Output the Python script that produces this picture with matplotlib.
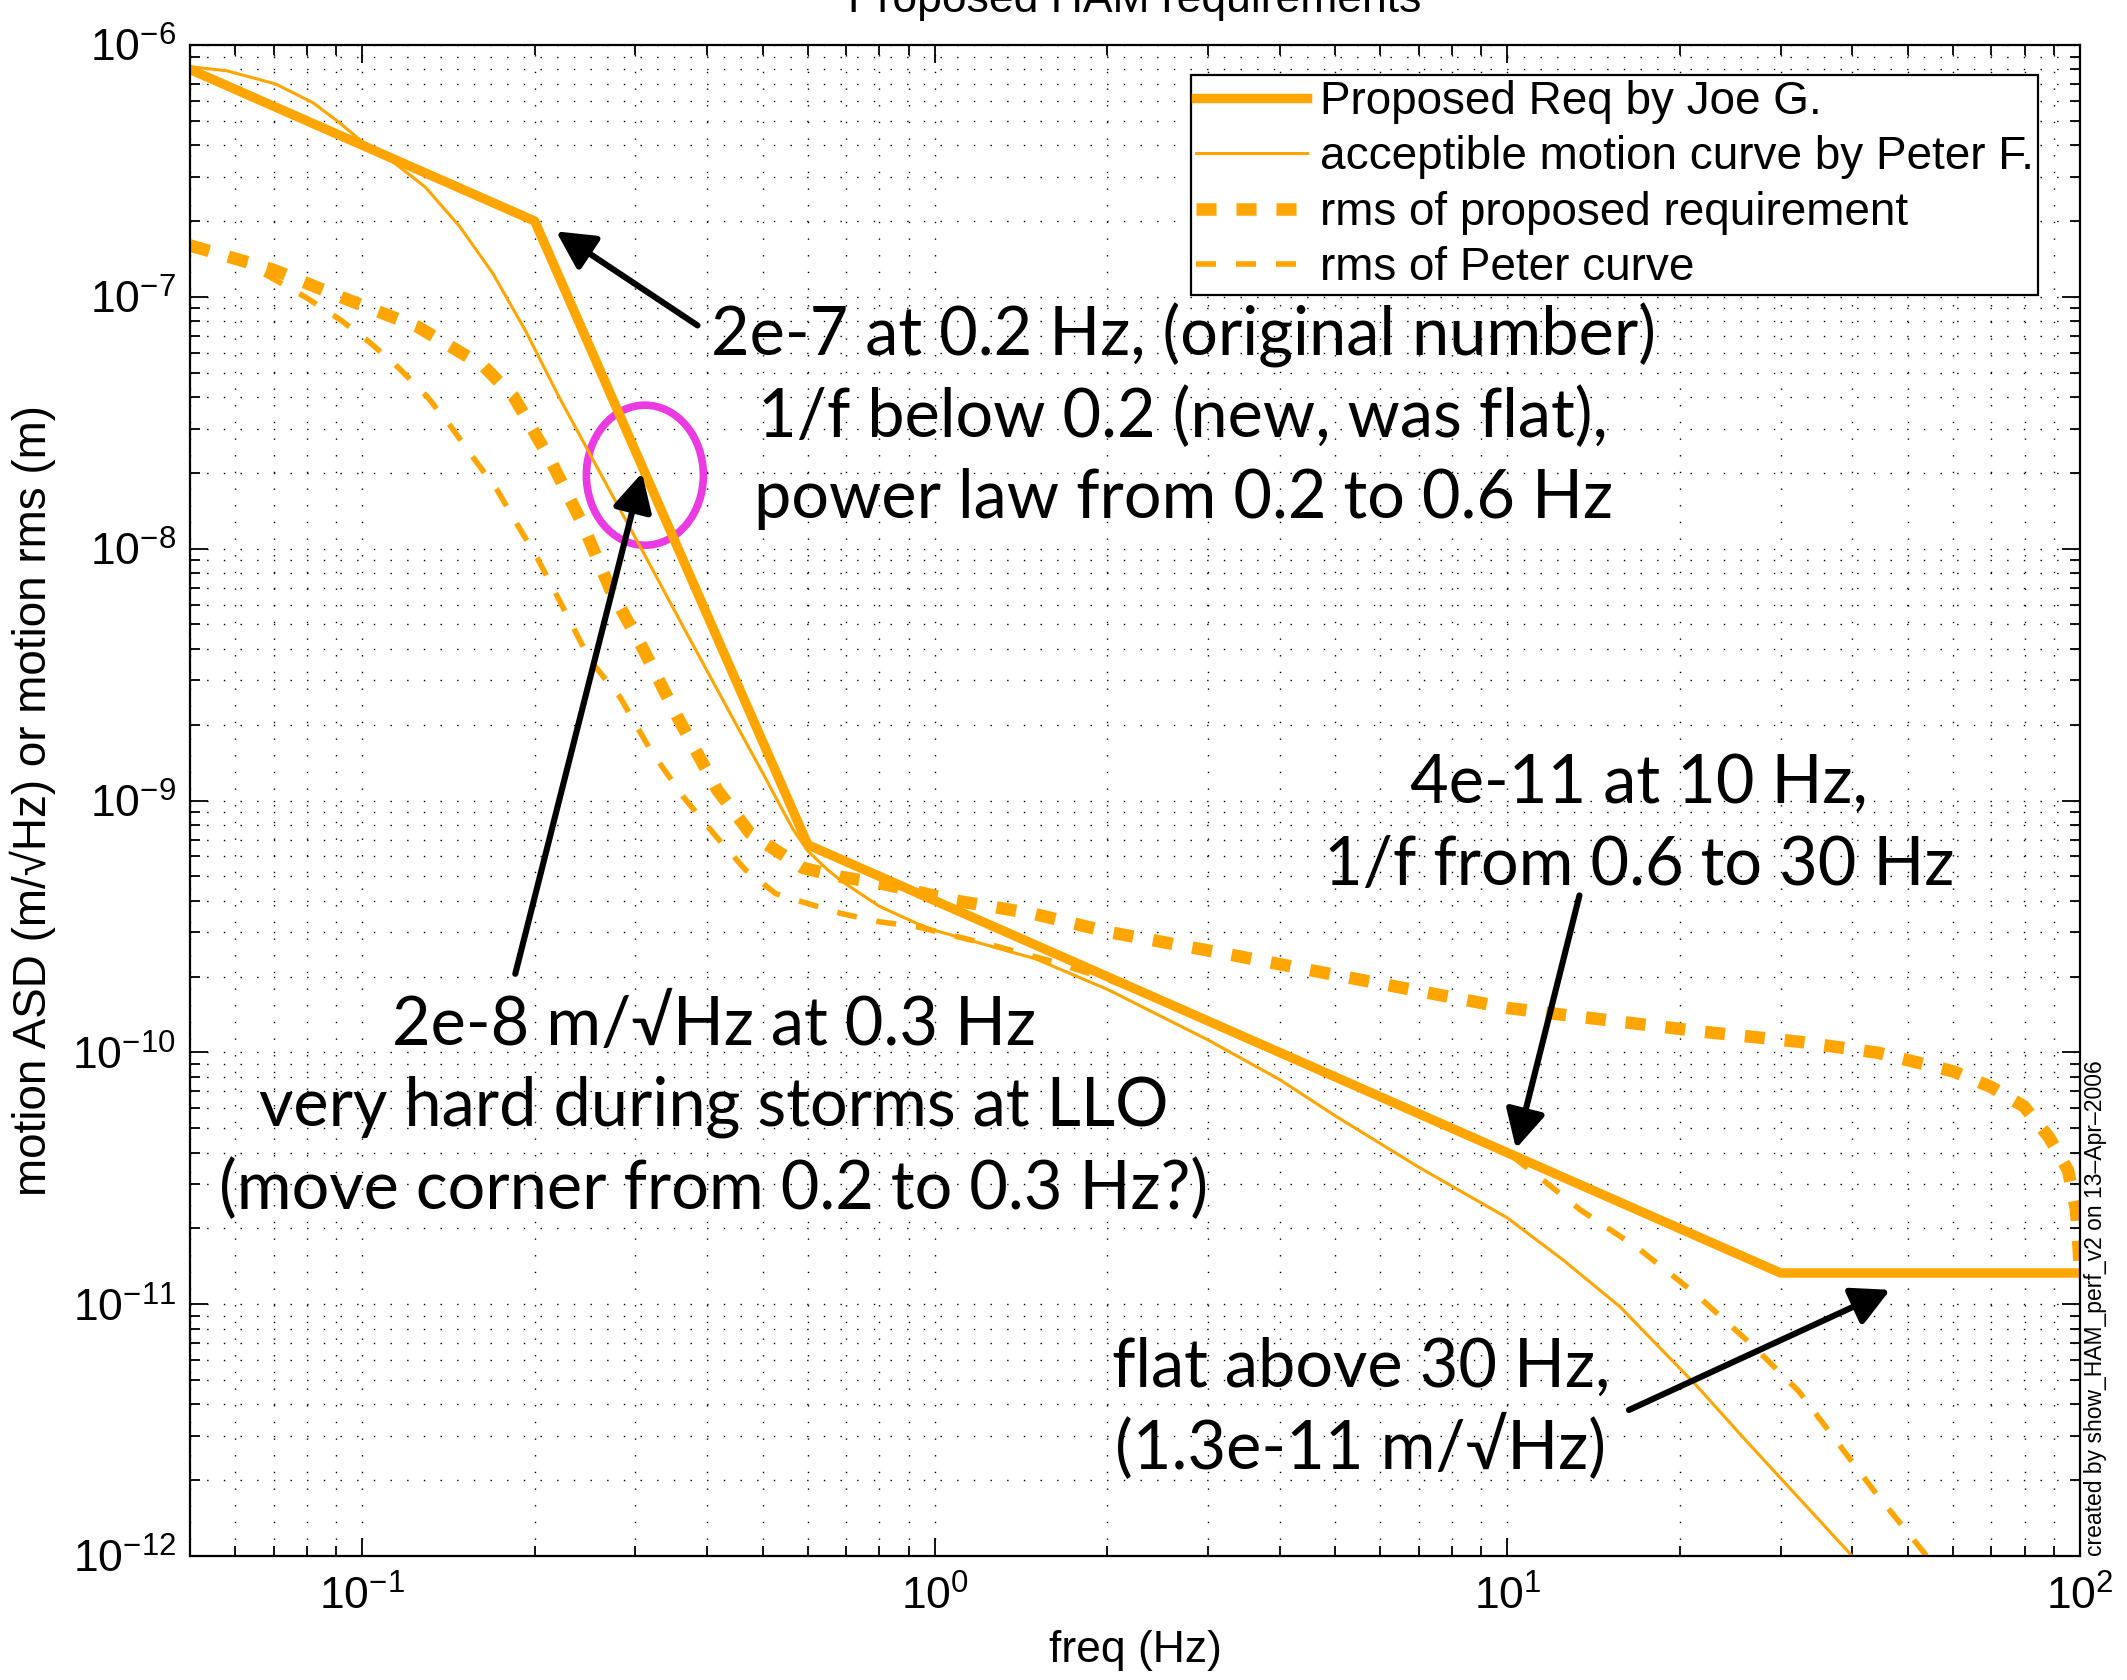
"""Proposed HAM requirements: motion ASD / rms vs frequency (log-log)."""

import matplotlib
matplotlib.use("Agg")
import matplotlib.pyplot as plt
from matplotlib.patches import Ellipse

# ---------------------------------------------------------------------------
# Data
# ---------------------------------------------------------------------------

freq_req = [0.05, 0.2, 0.6, 30, 100]
asd_req = [8e-7, 2e-7, 6.67e-10, 1.33e-11, 1.33e-11]

freq_peter = [0.05, 0.058, 0.0706, 0.082, 0.0914, 0.099, 0.112, 0.129, 0.148,
              0.169, 0.193, 0.221, 0.253, 0.289, 0.305, 0.367, 0.45, 0.5,
              0.536, 0.565, 0.6, 0.65, 0.686, 0.8, 0.933, 1.0, 1.5, 2.0, 3.0,
              4.0, 5.0, 7.0, 10, 12.5, 15.7, 21.3, 26, 31.9, 40]
asd_peter = [8.2e-7, 7.9e-7, 7.0e-7, 5.9e-7, 4.9e-7, 4.2e-7, 3.5e-7, 2.72e-7,
             1.9e-7, 1.24e-7, 7.3e-8, 3.97e-8, 2.25e-8, 1.29e-8, 1.03e-8,
             4.7e-9, 2.0e-9, 1.29e-9, 9.6e-10, 7.7e-10, 6.3e-10, 5.3e-10,
             4.8e-10, 3.8e-10, 3.24e-10, 3.05e-10, 2.35e-10, 1.78e-10,
             1.12e-10, 7.8e-11, 5.6e-11, 3.5e-11, 2.2e-11, 1.5e-11, 9.8e-12,
             4.8e-12, 2.9e-12, 1.75e-12, 1.0e-12]

freq_rms_req = [0.05, 0.07, 0.0916, 0.125, 0.163, 0.184, 0.213, 0.243, 0.271,
                0.310, 0.355, 0.417, 0.476, 0.588, 0.686, 0.8, 1.09, 1.48,
                2.02, 3.2, 5.0, 10, 21.8, 32.5, 44.4, 60.1, 69.8, 79.8, 88.3,
                95.3, 98.4, 99.5, 100]
rms_req = [1.6e-7, 1.28e-7, 1.0e-7, 7.6e-8, 5.3e-8, 4.0e-8, 2.25e-8, 1.24e-8,
           6.9e-9, 3.96e-9, 2.15e-9, 1.1e-9, 7.4e-10, 5.4e-10, 4.97e-10,
           4.7e-10, 4.0e-10, 3.56e-10, 3.0e-10, 2.47e-10, 2.03e-10, 1.5e-10,
           1.21e-10, 1.1e-10, 9.96e-11, 8.4e-11, 7.3e-11, 6.1e-11, 4.6e-11,
           3.4e-11, 2.37e-11, 1.64e-11, 1.3e-11]

freq_rms_peter = [0.05, 0.06, 0.0672, 0.080, 0.0916, 0.103, 0.116, 0.130,
                  0.143, 0.156, 0.172, 0.186, 0.202, 0.222, 0.250, 0.282,
                  0.319, 0.364, 0.417, 0.467, 0.527, 0.588, 0.686, 0.8, 0.933,
                  1.27, 1.6, 2.0, 2.5, 3.0, 5.0, 7.0, 10, 11.5, 13.4, 16.9,
                  21.3, 26.9, 32.3, 43.8, 54]
rms_peter = [1.6e-7, 1.4e-7, 1.24e-7, 9.9e-8, 8.1e-8, 6.6e-8, 5.2e-8, 4.0e-8,
             3.04e-8, 2.31e-8, 1.71e-8, 1.26e-8, 9.2e-9, 6.1e-9, 3.6e-9,
             2.57e-9, 1.58e-9, 1.03e-9, 7.1e-10, 5.3e-10, 4.27e-10, 3.95e-10,
             3.56e-10, 3.3e-10, 3.15e-10, 2.65e-10, 2.3e-10, 1.95e-10,
             1.6e-10, 1.33e-10, 8e-11, 5.7e-11, 4e-11, 3.13e-11, 2.37e-11,
             1.67e-11, 1.1e-11, 6.8e-12, 4.5e-12, 1.8e-12, 1.0e-12]

legend_labels = ["Proposed Req by Joe G.",
                 "acceptible motion curve by Peter F.",
                 "rms of proposed requirement",
                 "rms of Peter curve"]

ORANGE = "#ffa500"
MAGENTA = "#ea3ae2"
NOTE_FONT = ["Lato", "DejaVu Sans"]

plt.rcParams["font.family"] = ["Liberation Sans", "DejaVu Sans"]
plt.rcParams["mathtext.default"] = "regular"
plt.rcParams["axes.unicode_minus"] = False

fig = plt.figure(figsize=(21.27, 16.8), dpi=100)
ax = fig.add_axes([0.0893, 0.0738, 0.8886, 0.8994])
ax.set_xscale("log")
ax.set_yscale("log")

ax.plot(freq_req, asd_req, color=ORANGE, lw=6.8, label=legend_labels[0])
ax.plot(freq_peter, asd_peter, color=ORANGE, lw=2.2, label=legend_labels[1])
ax.plot(freq_rms_req, rms_req, color=ORANGE, lw=9,
        linestyle=(0, (1.6, 1.6)), label=legend_labels[2])
ax.plot(freq_rms_peter, rms_peter, color=ORANGE, lw=4,
        linestyle=(0, (3.6, 3.6)), label=legend_labels[3])

ax.set_xlim(0.05, 100)
ax.set_ylim(1e-12, 1e-6)

# MATLAB-like box, inward ticks and dotted grid
ax.grid(True, which="both", linestyle=(0, (1, 11)), color="k", lw=1.0)
ax.set_axisbelow(True)
ax.tick_params(which="both", direction="in", top=True, right=True,
               labelsize=32, width=1.3)
ax.tick_params(which="major", length=13)
ax.tick_params(which="minor", length=7)
ax.tick_params(axis="x", which="major", pad=14)
ax.tick_params(axis="y", which="major", pad=10)
for sp in ax.spines.values():
    sp.set_linewidth(1.6)

ax.set_xlabel("freq (Hz)", fontsize=32, labelpad=8)
ax.set_ylabel("motion ASD (m/\u221aHz) or motion rms (m)", fontsize=33,
              labelpad=12)
ax.set_title("Proposed HAM requirements", fontsize=32, pad=24)

leg = ax.legend(loc="upper right", bbox_to_anchor=(0.978, 0.980),
                borderaxespad=0, fontsize=33, fancybox=False,
                edgecolor="k", framealpha=1, handlelength=2.43,
                handletextpad=0.28, labelspacing=0.25, borderpad=0.1)
leg.get_frame().set_linewidth(1.6)

# ---------------------------------------------------------------------------
# Slide annotations
# ---------------------------------------------------------------------------

notes = [
    (0.5255, 0.7944, "2e-7 at 0.2 Hz, (original number)"),
    (0.5255, 0.7406, "1/f below 0.2 (new, was flat),"),
    (0.5255, 0.6867, "power law from 0.2 to 0.6 Hz"),
    (0.2771, 0.3384, "2e-8 m/\u221aHz at 0.3 Hz"),
    (0.2771, 0.2846, "very hard during storms at LLO"),
    (0.2771, 0.2298, "(move corner from 0.2 to 0.3 Hz?)"),
    (0.7667, 0.4982, "4e-11 at 10 Hz,"),
    (0.7667, 0.4443, "1/f from 0.6 to 30 Hz"),
    (0.6195, 0.1122, "flat above 30 Hz,"),
    (0.6195, 0.0575, "(1.3e-11 m/\u221aHz)"),
]
for x, y, s in notes:
    ax.text(x, y, s, transform=ax.transAxes, ha="center", va="baseline",
            fontsize=48, family=NOTE_FONT, color="k")

arrows = [
    ((0.385, 7.7e-8), (0.218, 1.82e-7)),
    ((0.185, 2.05e-10), (0.308, 2.0e-8)),
    ((13.36, 4.2e-10), (10.35, 4.15e-11)),
    ((16.3, 3.8e-12), (46.6, 1.14e-11)),
]
for tail, tip in arrows:
    ax.annotate("", xy=tip, xytext=tail,
                arrowprops=dict(arrowstyle="-|>,head_length=1.15,head_width=0.6",
                                mutation_scale=20, lw=4.4, color="k",
                                shrinkA=0, shrinkB=0))

ax.add_patch(Ellipse((0.2407, 0.7153), 0.0619, 0.0927, transform=ax.transAxes,
                     fill=False, edgecolor=MAGENTA, lw=5.5))

fig.text(0.9854, 0.0738, "created by show_HAM_perf_v2 on 13\u2013Apr\u20132006",
         rotation=90, ha="center", va="bottom", fontsize=16.5)

fig.savefig("out.png", dpi=100)
